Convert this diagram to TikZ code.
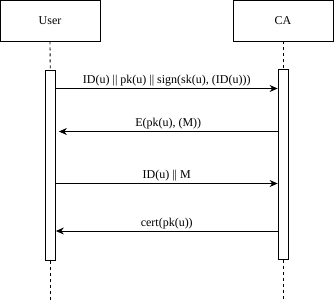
\documentclass[tikz,border=0pt]{standalone}
\usepackage{fontspec}
\setmainfont{Liberation Serif}
\usepackage{tikz}
\usetikzlibrary{arrows.meta, positioning}

\begin{document}
\begin{tikzpicture}[
    x=1pt, y=-1pt,
    font=\fontsize{12}{14}\selectfont,
    actor/.style={draw, rectangle, line width=0.8pt, minimum width=100pt, minimum height=41pt, inner sep=0pt},
    activation/.style={draw, rectangle, fill=white, line width=0.8pt, minimum width=10pt, minimum height=190pt, inner sep=0pt},
    lifeline/.style={line width=0.8pt, dash pattern=on 3pt off 3pt},
    msg/.style={line width=0.8pt, -{Stealth[length=8pt, width=7pt]}},
    msglabel/.style={above, inner sep=2pt}
]
    \useasboundingbox (0,0) rectangle (334,301);
    % Participants
    \node[actor] (user) at (50,20.5) {User};
    \node[actor] (ca) at (283,20.5) {CA};
    % Activation bars
    \node[activation] (useract) at (50.5,165.5) {};
    \node[activation] (caact) at (283,164.5) {};
    % Lifelines
    \coordinate (userend) at (50.5,301);
    \coordinate (caend) at (283,301);
    \draw[lifeline] (user) -- (useract);
    \draw[lifeline] (useract) -- (userend);
    \draw[lifeline] (ca) -- (caact);
    \draw[lifeline] (caact) -- (caend);
    % Message heights
    \coordinate (m1) at (0,88.5);
    \coordinate (m2) at (0,131.5);
    \coordinate (m3) at (0,183.5);
    \coordinate (m4) at (0,231);
    % Messages
    \draw[msg] (useract.east |- m1) -- node[msglabel] {ID(u) || pk(u) || sign(sk(u), (ID(u)))} (caact.west |- m1);
    \draw[msg] (caact.west |- m2) -- node[msglabel] {E(pk(u), (M))} ([xshift=3pt]useract.east |- m2);
    \draw[msg] (useract.east |- m3) -- node[msglabel] {ID(u) || M} (caact.west |- m3);
    \draw[msg] (caact.west |- m4) -- node[msglabel] {cert(pk(u))} (useract.east |- m4);
\end{tikzpicture}
\end{document}
